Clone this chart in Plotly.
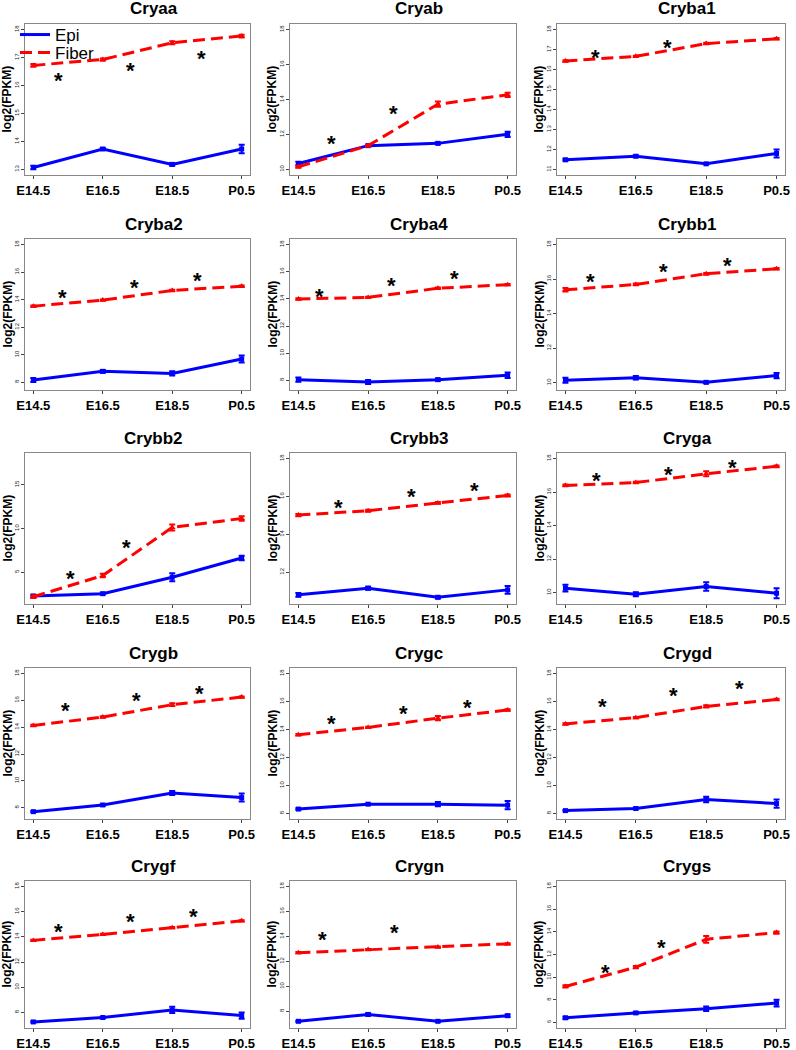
import plotly.graph_objects as go

# ---------------- data ----------------
categories = ["E14.5", "E16.5", "E18.5", "P0.5"]
genes = ["Cryaa", "Cryab", "Cryba1",
         "Cryba2", "Cryba4", "Crybb1",
         "Crybb2", "Crybb3", "Cryga",
         "Crygb", "Crygc", "Crygd",
         "Crygf", "Crygn", "Crygs"]

epi_mean = [
    [13.07, 13.73, 13.18, 13.73],
    [10.34, 11.36, 11.49, 12.01],
    [11.48, 11.66, 11.28, 11.80],
    [8.17, 8.80, 8.65, 9.69],
    [8.05, 7.88, 8.05, 8.37],
    [10.14, 10.29, 10.02, 10.41],
    [2.27, 2.54, 4.42, 6.62],
    [10.81, 11.16, 10.68, 11.07],
    [10.26, 9.90, 10.36, 9.96],
    [7.70, 8.20, 9.10, 8.75],
    [8.31, 8.66, 8.66, 8.59],
    [8.20, 8.35, 9.00, 8.70],
    [7.25, 7.60, 8.20, 7.75],
    [7.20, 7.75, 7.20, 7.65],
    [6.42, 6.85, 7.21, 7.72],
]
epi_err = [
    [0.06, 0.04, 0.05, 0.15],
    [0.10, 0.05, 0.05, 0.15],
    [0.05, 0.05, 0.04, 0.20],
    [0.15, 0.10, 0.15, 0.25],
    [0.15, 0.15, 0.08, 0.20],
    [0.15, 0.10, 0.05, 0.15],
    [0.15, 0.10, 0.45, 0.25],
    [0.10, 0.08, 0.06, 0.20],
    [0.20, 0.12, 0.25, 0.30],
    [0.05, 0.05, 0.15, 0.30],
    [0.05, 0.05, 0.15, 0.30],
    [0.05, 0.05, 0.20, 0.30],
    [0.05, 0.05, 0.25, 0.25],
    [0.05, 0.10, 0.05, 0.10],
    [0.10, 0.08, 0.20, 0.30],
]
fiber_mean = [
    [16.72, 16.93, 17.53, 17.77],
    [10.15, 11.36, 13.73, 14.27],
    [16.43, 16.66, 17.30, 17.54],
    [13.53, 13.97, 14.67, 14.98],
    [13.99, 14.11, 14.78, 15.05],
    [15.38, 15.69, 16.31, 16.60],
    [2.19, 4.62, 10.12, 11.15],
    [15.02, 15.25, 15.66, 16.05],
    [16.40, 16.57, 17.09, 17.54],
    [14.13, 14.76, 15.68, 16.25],
    [13.63, 14.15, 14.81, 15.40],
    [14.40, 14.85, 15.65, 16.15],
    [13.72, 14.19, 14.73, 15.27],
    [12.70, 12.95, 13.15, 13.40],
    [9.18, 10.88, 13.34, 13.93],
]
fiber_err = [
    [0.05, 0.04, 0.05, 0.05],
    [0.05, 0.05, 0.15, 0.12],
    [0.04, 0.03, 0.04, 0.04],
    [0.05, 0.05, 0.05, 0.05],
    [0.05, 0.05, 0.05, 0.05],
    [0.10, 0.05, 0.05, 0.05],
    [0.15, 0.20, 0.35, 0.25],
    [0.06, 0.05, 0.05, 0.05],
    [0.05, 0.04, 0.15, 0.05],
    [0.05, 0.06, 0.10, 0.05],
    [0.05, 0.05, 0.15, 0.05],
    [0.05, 0.05, 0.08, 0.05],
    [0.05, 0.05, 0.05, 0.05],
    [0.05, 0.05, 0.05, 0.05],
    [0.10, 0.10, 0.30, 0.10],
]
# significance asterisks (x in category index units, y in log2 FPKM)
star_x = [
    [0.36, 1.40, 2.42],
    [0.48, 1.36],
    [0.42, 1.45],
    [0.42, 1.46, 2.36],
    [0.31, 1.34, 2.24],
    [0.36, 1.39, 2.30],
    [0.54, 1.34],
    [0.58, 1.62, 2.52],
    [0.44, 1.47, 2.38],
    [0.47, 1.49, 2.39],
    [0.47, 1.51, 2.42],
    [0.53, 1.54, 2.47],
    [0.36, 1.40, 2.31],
    [0.35, 1.38],
    [0.57, 1.37],
]
star_y = [
    [16.24, 16.60, 17.03],
    [11.59, 13.31],
    [16.69, 17.18],
    [14.33, 15.06, 15.54],
    [14.36, 15.15, 15.65],
    [15.96, 16.54, 16.93],
    [4.54, 8.08],
    [15.55, 16.08, 16.40],
    [16.79, 17.19, 17.58],
    [15.38, 16.13, 16.63],
    [14.57, 15.28, 15.75],
    [15.76, 16.58, 17.10],
    [14.58, 15.35, 15.81],
    [13.88, 14.50],
    [10.60, 12.77],
]
ylim_low = [13, 10, 11, 7.85, 7.7, 9.9, 2, 10.62, 9.65, 7.57, 8, 8, 7.2, 7.1, 6]
ylim_high = [18] * 15
y_dtick = [1, 2, 1, 2, 2, 2, 5, 2, 2, 2, 2, 2, 2, 2, 2]

# ---------------- layout ----------------
W, H = 796, 1050
col_px = [(25, 250), (290, 516), (557, 785)]
row_px = [(24, 175), (239, 390), (453, 604), (668, 819), (881, 1028)]


def px_x(p):
    return p / W


def px_y(p):
    return 1 - p / H


EPI_COLOR = "#0000FF"
FIB_COLOR = "#FF0000"
FONT = "Liberation Sans, Arial, sans-serif"

fig = go.Figure()
annotations = []
layout_axes = {}

for i, g in enumerate(genes):
    r, c = divmod(i, 3)
    x0, x1 = col_px[c]
    y0, y1 = row_px[r]
    n = i + 1
    xa = "x" if n == 1 else f"x{n}"
    ya = "y" if n == 1 else f"y{n}"
    xkey = "xaxis" if n == 1 else f"xaxis{n}"
    ykey = "yaxis" if n == 1 else f"yaxis{n}"
    xs = list(range(len(categories)))

    fig.add_trace(go.Scatter(
        x=xs, y=epi_mean[i], xaxis=xa, yaxis=ya, mode="lines+markers",
        line=dict(color=EPI_COLOR, width=3),
        marker=dict(symbol="square", size=5, color=EPI_COLOR),
        error_y=dict(type="data", array=epi_err[i], color=EPI_COLOR, thickness=2, width=3),
        showlegend=False, hoverinfo="skip"))
    fig.add_trace(go.Scatter(
        x=xs, y=fiber_mean[i], xaxis=xa, yaxis=ya, mode="lines+markers",
        line=dict(color=FIB_COLOR, width=3, dash="12px,6px"),
        marker=dict(symbol="triangle-up", size=6, color=FIB_COLOR),
        error_y=dict(type="data", array=fiber_err[i], color=FIB_COLOR, thickness=2, width=3),
        showlegend=False, hoverinfo="skip"))

    lo, hi = ylim_low[i], ylim_high[i]
    pad = 0.04 * (hi - lo)
    layout_axes[xkey] = dict(
        domain=[px_x(x0), px_x(x1)], anchor=ya, range=[-0.12, 3.12],
        tickmode="array", tickvals=xs, ticktext=categories,
        ticks="outside", ticklen=3, tickcolor="#444", tickwidth=1,
        tickfont=dict(family=FONT, size=13, color="black", weight="bold"),
        showline=True, mirror=True, linecolor="#888", linewidth=1,
        showgrid=False, zeroline=False, fixedrange=True, automargin=False)
    layout_axes[ykey] = dict(
        domain=[px_y(y1), px_y(y0)], anchor=xa, range=[lo - pad, hi + pad],
        tick0=0, dtick=y_dtick[i], tickangle=-90,
        ticks="outside", ticklen=3, tickcolor="#444", tickwidth=1,
        tickfont=dict(family=FONT, size=6, color="#222"),
        showline=True, mirror=True, linecolor="#888", linewidth=1,
        showgrid=False, zeroline=False, fixedrange=True, automargin=False)

    # panel title
    annotations.append(dict(
        text=f"<b>{g}</b>", xref="paper", yref="paper",
        x=px_x((x0 + x1) / 2 + 16), y=px_y(y0 - 15),
        xanchor="center", yanchor="middle", showarrow=False,
        font=dict(family=FONT, size=17, color="black")))
    # y axis title
    annotations.append(dict(
        text="<b>log2(FPKM)</b>", xref="paper", yref="paper",
        x=px_x(x0 - 18), y=px_y((y0 + y1) / 2),
        xanchor="center", yanchor="middle", textangle=-90, showarrow=False,
        font=dict(family=FONT, size=12, color="black")))
    # asterisks
    for sx, sy in zip(star_x[i], star_y[i]):
        annotations.append(dict(
            text="<b>*</b>", xref=xa, yref=ya, x=sx, y=sy,
            xanchor="center", yanchor="middle", showarrow=False, yshift=-2,
            font=dict(family=FONT, size=22, color="black")))

# legend entries (first panel), one legend box per entry for tight spacing
fig.add_trace(go.Scatter(x=[None], y=[None], mode="lines", name="Epi",
                         line=dict(color=EPI_COLOR, width=3), showlegend=True,
                         legend="legend"))
fig.add_trace(go.Scatter(x=[None], y=[None], mode="lines", name="Fiber",
                         line=dict(color=FIB_COLOR, width=3, dash="12px,6px"), showlegend=True,
                         legend="legend2"))

leg_common = dict(xanchor="left", yanchor="middle", bgcolor="rgba(0,0,0,0)", borderwidth=0,
                  font=dict(family=FONT, size=17, color="black"), itemwidth=30)

fig.update_layout(
    width=W, height=H, autosize=False,
    margin=dict(l=0, r=0, t=0, b=0, pad=0, autoexpand=False),
    paper_bgcolor="white", plot_bgcolor="white",
    font=dict(family=FONT, color="black"),
    showlegend=True,
    legend=dict(x=px_x(15), y=px_y(35), **leg_common),
    legend2=dict(x=px_x(15), y=px_y(53), **leg_common),
    annotations=annotations,
    **layout_axes)

# remove the default page margin so the figure sits at the window's top-left corner
fig.write_html("out.html",
               config={"displayModeBar": False},
               post_script="document.body.style.margin='0';document.body.style.padding='0';")
